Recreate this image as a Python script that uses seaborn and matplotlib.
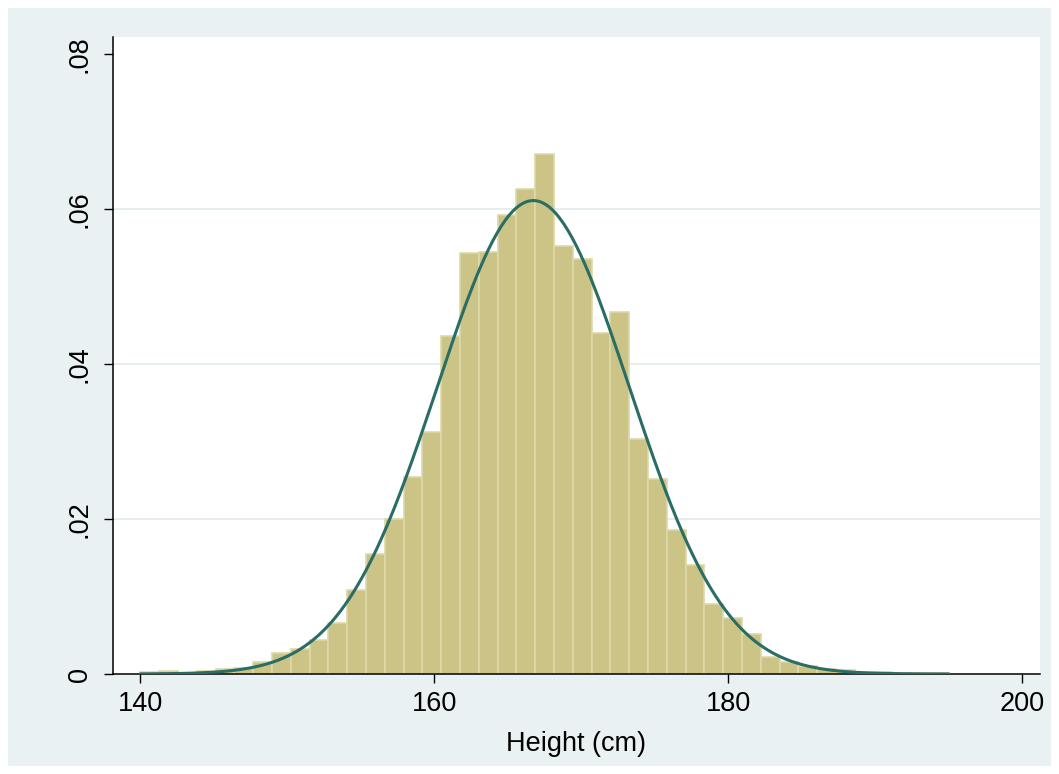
import numpy as np
import pandas as pd
import matplotlib
matplotlib.use("Agg")
import matplotlib.pyplot as plt
import seaborn as sns
from matplotlib.patches import Rectangle

# histogram: 43 bins of equal width from 140 to 195 cm, density per bin
bin_start = 140.0
bin_end = 195.0
densities = [0.00032, 0.00041, 0.00015, 0.00045, 0.00062, 0.00080,
             0.00152, 0.00268, 0.00325, 0.00445, 0.00658, 0.01086,
             0.01551, 0.02003, 0.02539, 0.03120, 0.04359, 0.05435,
             0.05443, 0.05925, 0.06261, 0.06706, 0.05529, 0.05357,
             0.04406, 0.04668, 0.03035, 0.02510, 0.01861, 0.01413,
             0.00906, 0.00725, 0.00510, 0.00217, 0.00152, 0.00106,
             0.00067, 0.00054, 0.00032, 0.00028, 0.00015, 0.00010,
             0.00010]
# fitted normal density overlay
norm_mean = 166.73
norm_sd = 6.53

xticks = [140, 160, 180, 200]
yticks = [0, 0.02, 0.04, 0.06, 0.08]
ytick_labels = ["0", ".02", ".04", ".06", ".08"]

nbins = len(densities)
edges = np.linspace(bin_start, bin_end, nbins + 1)
centers = (edges[:-1] + edges[1:]) / 2
hist_df = pd.DataFrame({"height": centers, "density": densities})

xs = np.linspace(bin_start, bin_end, 400)
pdf = np.exp(-0.5 * ((xs - norm_mean) / norm_sd) ** 2) / (norm_sd * np.sqrt(2 * np.pi))
curve_df = pd.DataFrame({"height": xs, "pdf": pdf})

sns.set_style("white")
plt.rcParams['font.family'] = ['Liberation Sans Narrow', 'Liberation Sans', 'DejaVu Sans']
plt.rcParams['text.color'] = 'black'
plt.rcParams['axes.labelcolor'] = 'black'
plt.rcParams['xtick.color'] = 'black'
plt.rcParams['ytick.color'] = 'black'

fig = plt.figure(figsize=(10.59, 7.74), dpi=100)
fig.patch.set_facecolor("white")
fig.patches.append(Rectangle((8/1059, 8/774), 1 - 16/1059, 1 - 16/774,
                             transform=fig.transFigure, facecolor="#eaf1f3",
                             edgecolor="none", zorder=-10))
ax = fig.add_axes([113/1059, 1 - 674/774, (1040-113)/1059, (674-37)/774])
ax.set_facecolor("white")

for g in yticks[1:-1]:
    ax.axhline(g, color="#e3ecee", lw=1.3, zorder=0)

sns.histplot(data=hist_df, x="height", weights="density", bins=nbins,
             binrange=(bin_start, bin_end), stat="count", color="#cbc486",
             edgecolor="#ddd9a9", linewidth=1.2, alpha=1, ax=ax, zorder=2)
sns.lineplot(data=curve_df, x="height", y="pdf", color="#2a6d65", lw=2.2,
             ax=ax, zorder=3)

ax.set_xlim(138.14, 201.2)
ax.set_ylim(0, 0.0822)
ax.set_xticks(xticks)
ax.set_xticklabels([str(t) for t in xticks])
ax.set_yticks(yticks)
ax.set_yticklabels(ytick_labels)
for lab in ax.get_yticklabels():
    lab.set_rotation(90)
    lab.set_va("center")

ax.tick_params(axis="both", direction="out", length=6.5, width=1, color="black",
               labelcolor="black", labelsize=19.5, pad=6, bottom=True, left=True)
ax.tick_params(axis="y", pad=8)
ax.set_xlabel("Height (cm)", fontsize=19.5, labelpad=10, color="black")
ax.set_ylabel("")

for s in ["top", "right"]:
    ax.spines[s].set_visible(False)
for s in ["left", "bottom"]:
    ax.spines[s].set_color("black")
    ax.spines[s].set_linewidth(1.1)

fig.savefig("out.png", dpi=100, facecolor=fig.get_facecolor())
